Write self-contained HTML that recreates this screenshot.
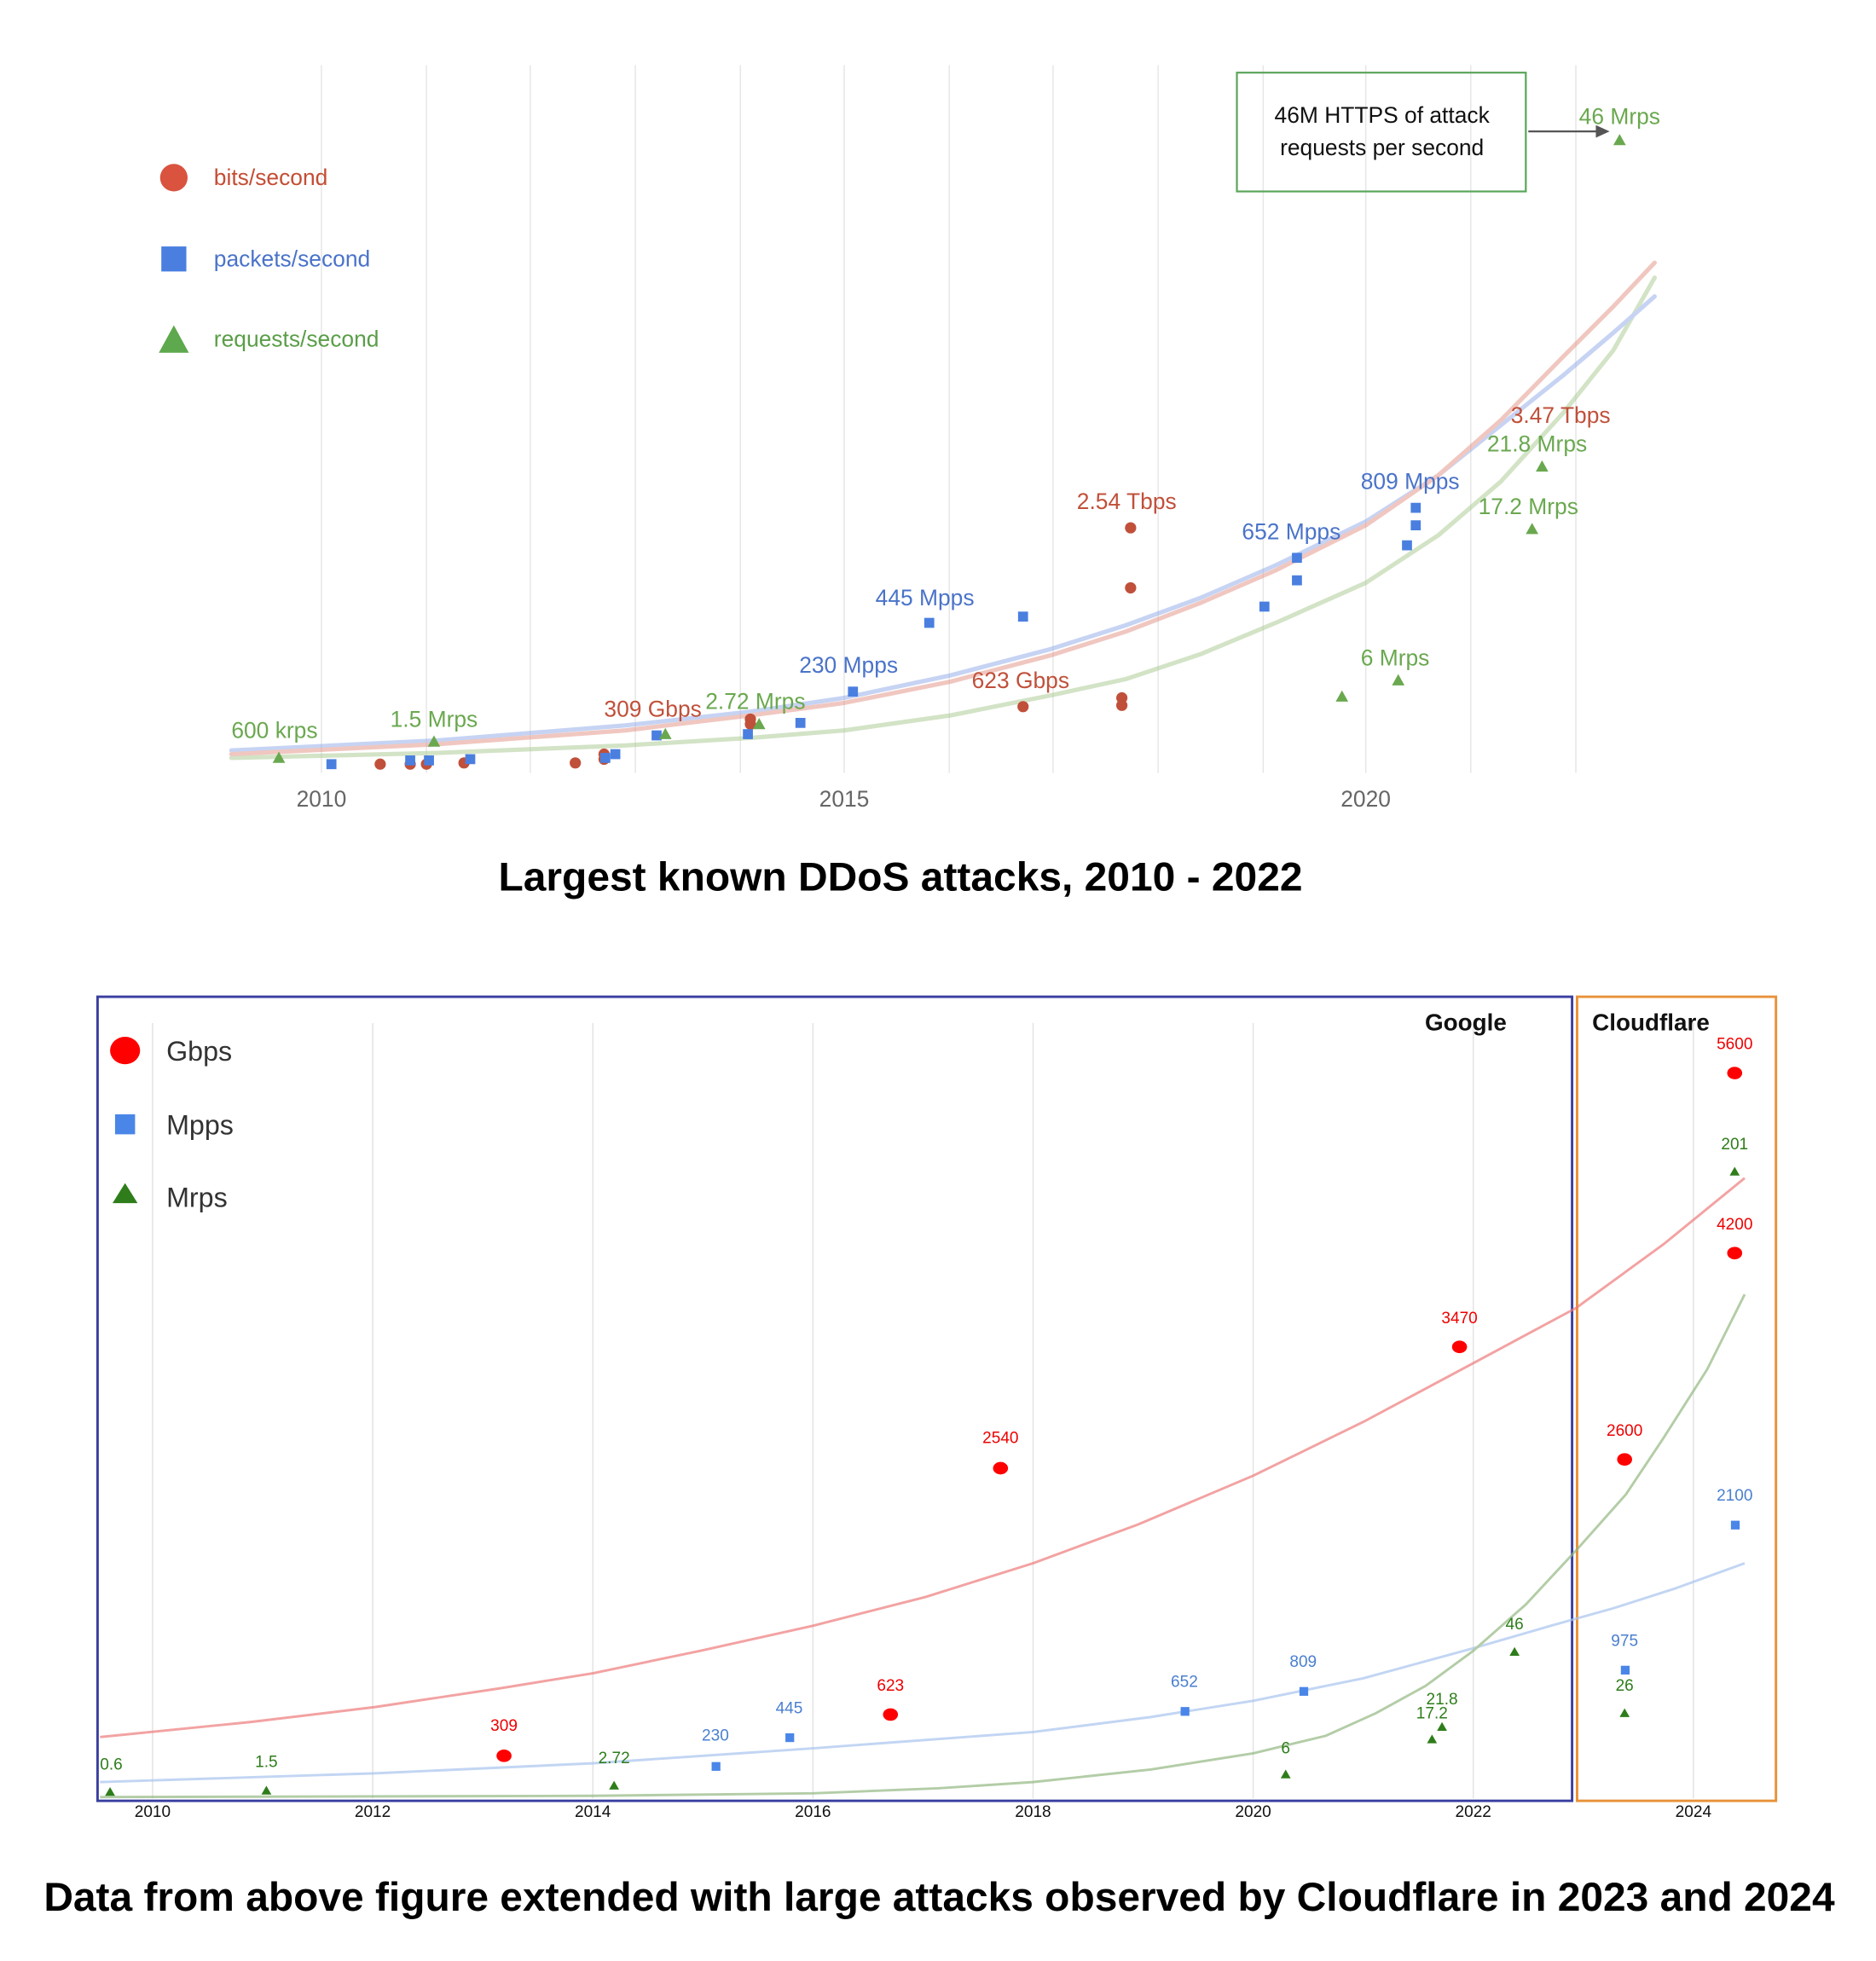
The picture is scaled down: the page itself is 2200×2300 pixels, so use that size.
<!DOCTYPE html>
<html><head><meta charset="utf-8"><style>html,body{margin:0;padding:0;background:#fff}svg{display:block}text{font-family:"Liberation Sans",sans-serif}</style></head>
<body>
<svg width="2200" height="2300" viewBox="0 0 1500 1568" xmlns="http://www.w3.org/2000/svg">
<rect width="1500" height="1568" fill="#fff"/>
<!-- TOP CHART -->
<g stroke="#e6e6e6" stroke-width="1">
<line x1="257" y1="52" x2="257" y2="618"/><line x1="341" y1="52" x2="341" y2="618"/><line x1="424" y1="52" x2="424" y2="618"/><line x1="508" y1="52" x2="508" y2="618"/><line x1="592" y1="52" x2="592" y2="618"/><line x1="675" y1="52" x2="675" y2="618"/><line x1="759" y1="52" x2="759" y2="618"/><line x1="842" y1="52" x2="842" y2="618"/><line x1="926" y1="52" x2="926" y2="618"/><line x1="1010" y1="52" x2="1010" y2="618"/><line x1="1092" y1="52" x2="1092" y2="618"/><line x1="1176" y1="52" x2="1176" y2="618"/><line x1="1260" y1="52" x2="1260" y2="618"/>
</g>
<g font-size="18" fill="#666" text-anchor="middle"><text x="257" y="645">2010</text><text x="675" y="645">2015</text><text x="1092" y="645">2020</text></g>
<circle cx="139" cy="142" r="11" fill="#d9533f"/><text x="171" y="148" font-size="18" fill="#c44d34">bits/second</text>
<rect x="129" y="197" width="20" height="20" fill="#4a7fe0"/><text x="171" y="213" font-size="18" fill="#4a73c9">packets/second</text>
<polygon points="139,260 151,282 127,282" fill="#5ea84e"/><text x="171" y="277" font-size="18" fill="#5a9e48">requests/second</text>
<rect x="989" y="58" width="231" height="95" fill="none" stroke="#5aa55a" stroke-width="1.5"/>
<g font-size="18" fill="#111" text-anchor="middle"><text x="1105" y="98">46M HTTPS of attack</text><text x="1105" y="124">requests per second</text></g>
<line x1="1222" y1="105" x2="1278" y2="105" stroke="#555" stroke-width="1.5"/><polygon points="1287,105 1276,100 1276,110" fill="#555"/>
<text x="1295" y="99" font-size="18" fill="#6aa84f" text-anchor="middle">46 Mrps</text>
<g fill="none" stroke-width="3.5" stroke-linejoin="round" stroke-linecap="round" opacity="0.5">
<polyline stroke="#a8c98f" points="185,606 350,602 500,596 600,590 675,584 760,572 840,556 900,543 960,523 1020,498 1092,466 1150,428 1200,385 1250,330 1290,280 1323,222"/>
<polyline stroke="#8fa9e8" points="185,600 350,592 500,580 600,569 675,558 760,540 840,519 900,500 960,478 1020,452 1092,417 1150,380 1200,340 1250,300 1290,266 1323,237"/>
<polyline stroke="#e39083" points="185,603 350,595 500,584 600,572 675,562 760,545 840,524 900,505 960,482 1020,456 1092,420 1150,380 1200,336 1250,285 1290,245 1323,210"/>
</g>
<g fill="#c0503a"><circle cx="304" cy="611" r="4.5"/><circle cx="328" cy="611" r="4.5"/><circle cx="341" cy="611" r="4.5"/><circle cx="371" cy="610" r="4.5"/><circle cx="460" cy="610" r="4.5"/><circle cx="483" cy="603" r="4.5"/><circle cx="483" cy="607" r="4.5"/><circle cx="600" cy="575" r="4.5"/><circle cx="600" cy="579" r="4.5"/><circle cx="818" cy="565" r="4.5"/><circle cx="897" cy="558" r="4.5"/><circle cx="897" cy="564" r="4.5"/><circle cx="904" cy="470" r="4.5"/><circle cx="904" cy="422" r="4.5"/></g>
<g fill="#4a7fe0"><rect x="261" y="607" width="8" height="8"/><rect x="324" y="604" width="8" height="8"/><rect x="339" y="604" width="8" height="8"/><rect x="372" y="603" width="8" height="8"/><rect x="480" y="602" width="8" height="8"/><rect x="488" y="599" width="8" height="8"/><rect x="521" y="584" width="8" height="8"/><rect x="594" y="583" width="8" height="8"/><rect x="636" y="574" width="8" height="8"/><rect x="678" y="549" width="8" height="8"/><rect x="739" y="494" width="8" height="8"/><rect x="814" y="489" width="8" height="8"/><rect x="1007" y="481" width="8" height="8"/><rect x="1033" y="460" width="8" height="8"/><rect x="1033" y="442" width="8" height="8"/><rect x="1121" y="432" width="8" height="8"/><rect x="1128" y="416" width="8" height="8"/><rect x="1128" y="402" width="8" height="8"/></g>
<g fill="#6aa84f"><polygon points="223,601 228,610 218,610"/><polygon points="347,588 352,597 342,597"/><polygon points="532,582 537,591 527,591"/><polygon points="607,574 612,583 602,583"/><polygon points="1073,552 1078,561 1068,561"/><polygon points="1118,539 1123,548 1113,548"/><polygon points="1225,418 1230,427 1220,427"/><polygon points="1233,368 1238,377 1228,377"/><polygon points="1295,107 1300,116 1290,116"/></g>
<g font-size="18">
<text x="185" y="590" fill="#6aa84f">600 krps</text><text x="312" y="581" fill="#6aa84f">1.5 Mrps</text><text x="483" y="573" fill="#c0503a">309 Gbps</text><text x="564" y="567" fill="#6aa84f">2.72 Mrps</text><text x="639" y="538" fill="#4a73c9">230 Mpps</text><text x="700" y="484" fill="#4a73c9">445 Mpps</text><text x="777" y="550" fill="#c0503a">623 Gbps</text><text x="861" y="407" fill="#c0503a">2.54 Tbps</text><text x="993" y="431" fill="#4a73c9">652 Mpps</text><text x="1088" y="391" fill="#4a73c9">809 Mpps</text><text x="1088" y="532" fill="#6aa84f">6 Mrps</text><text x="1182" y="411" fill="#6aa84f">17.2 Mrps</text><text x="1208" y="338" fill="#c0503a">3.47 Tbps</text><text x="1189" y="361" fill="#6aa84f">21.8 Mrps</text>
</g>
<text x="720" y="712" font-size="32" font-weight="bold" text-anchor="middle" textLength="643" lengthAdjust="spacingAndGlyphs" fill="#000">Largest known DDoS attacks, 2010 - 2022</text>
<!-- BOTTOM CHART -->
<g stroke="#e3e3e3" stroke-width="1"><line x1="122" y1="818" x2="122" y2="1438"/><line x1="298" y1="818" x2="298" y2="1438"/><line x1="474" y1="818" x2="474" y2="1438"/><line x1="650" y1="818" x2="650" y2="1438"/><line x1="826" y1="818" x2="826" y2="1438"/><line x1="1002" y1="818" x2="1002" y2="1438"/><line x1="1178" y1="818" x2="1178" y2="1438"/><line x1="1354" y1="818" x2="1354" y2="1438"/></g>
<rect x="78" y="797" width="1179" height="643" fill="none" stroke="#3a3fa0" stroke-width="2"/>
<rect x="1261" y="797" width="159" height="643" fill="none" stroke="#e8923a" stroke-width="2"/>
<g font-size="13" fill="#111" text-anchor="middle"><text x="122" y="1453">2010</text><text x="298" y="1453">2012</text><text x="474" y="1453">2014</text><text x="650" y="1453">2016</text><text x="826" y="1453">2018</text><text x="1002" y="1453">2020</text><text x="1178" y="1453">2022</text><text x="1354" y="1453">2024</text></g>
<ellipse cx="100" cy="840" rx="12" ry="11" fill="#f00"/><text x="133" y="848" font-size="22" fill="#333">Gbps</text>
<rect x="92" y="891" width="16" height="16" fill="#4a86e8"/><text x="133" y="907" font-size="22" fill="#333">Mpps</text>
<polygon points="100,946 110,962 90,962" fill="#2e7d1a"/><text x="133" y="965" font-size="22" fill="#333">Mrps</text>
<text x="1172" y="824" font-size="19" font-weight="bold" text-anchor="middle" fill="#111">Google</text>
<text x="1320" y="824" font-size="19" font-weight="bold" text-anchor="middle" fill="#111">Cloudflare</text>
<g fill="none" stroke-width="2" stroke-linejoin="round" opacity="0.7">
<polyline stroke="#ee7b7b" points="80,1389 200,1377 300,1365 400,1350 474,1338 560,1320 650,1300 740,1277 826,1250 910,1219 1002,1180 1090,1137 1178,1090 1260,1046 1330,995 1395,942"/>
<polyline stroke="#a9c4ee" points="80,1425 300,1418 474,1410 650,1398 826,1385 920,1373 1002,1360 1090,1342 1178,1318 1240,1300 1290,1286 1340,1270 1395,1250"/>
<polyline stroke="#94b883" points="80,1437 474,1436 650,1434 750,1430 826,1425 920,1415 1002,1402 1060,1388 1100,1370 1140,1348 1178,1320 1220,1283 1260,1240 1300,1195 1330,1150 1365,1095 1395,1035"/>
</g>
<g fill="#f00"><ellipse cx="403" cy="1404" rx="6" ry="5"/><ellipse cx="712" cy="1371" rx="6" ry="5"/><ellipse cx="800" cy="1174" rx="6" ry="5"/><ellipse cx="1167" cy="1077" rx="6" ry="5"/><ellipse cx="1299" cy="1167" rx="6" ry="5"/><ellipse cx="1387" cy="1002" rx="6" ry="5"/><ellipse cx="1387" cy="858" rx="6" ry="5"/></g>
<g fill="#4a86e8"><rect x="569" y="1409" width="7" height="7"/><rect x="628" y="1386" width="7" height="7"/><rect x="944" y="1365" width="7" height="7"/><rect x="1039" y="1349" width="7" height="7"/><rect x="1296" y="1332" width="7" height="7"/><rect x="1384" y="1216" width="7" height="7"/></g>
<g fill="#2e7d1a"><polygon points="88,1429 92,1436 84,1436"/><polygon points="213,1428 217,1435 209,1435"/><polygon points="491,1424 495,1431 487,1431"/><polygon points="1028,1415 1032,1422 1024,1422"/><polygon points="1145,1387 1149,1394 1141,1394"/><polygon points="1153,1377 1157,1384 1149,1384"/><polygon points="1211,1317 1215,1324 1207,1324"/><polygon points="1299,1366 1303,1373 1295,1373"/><polygon points="1387,933 1391,940 1383,940"/></g>
<g font-size="13" text-anchor="middle">
<g fill="#e00"><text x="403" y="1384">309</text><text x="712" y="1352">623</text><text x="800" y="1154">2540</text><text x="1167" y="1058">3470</text><text x="1299" y="1148">2600</text><text x="1387" y="983">4200</text><text x="1387" y="839">5600</text></g>
<g fill="#4a7fd0"><text x="572" y="1392">230</text><text x="631" y="1370">445</text><text x="947" y="1349">652</text><text x="1042" y="1333">809</text><text x="1299" y="1316">975</text><text x="1387" y="1200">2100</text></g>
<g fill="#2e7d1a"><text x="89" y="1415">0.6</text><text x="213" y="1413">1.5</text><text x="491" y="1410">2.72</text><text x="1028" y="1402">6</text><text x="1145" y="1374">17.2</text><text x="1153" y="1363">21.8</text><text x="1211" y="1303">46</text><text x="1299" y="1352">26</text><text x="1387" y="919">201</text></g>
</g>
<text x="751" y="1528" font-size="32" font-weight="bold" text-anchor="middle" textLength="1432" lengthAdjust="spacingAndGlyphs" fill="#000">Data from above figure extended with large attacks observed by Cloudflare in 2023 and 2024</text>
</svg>
</body></html>
